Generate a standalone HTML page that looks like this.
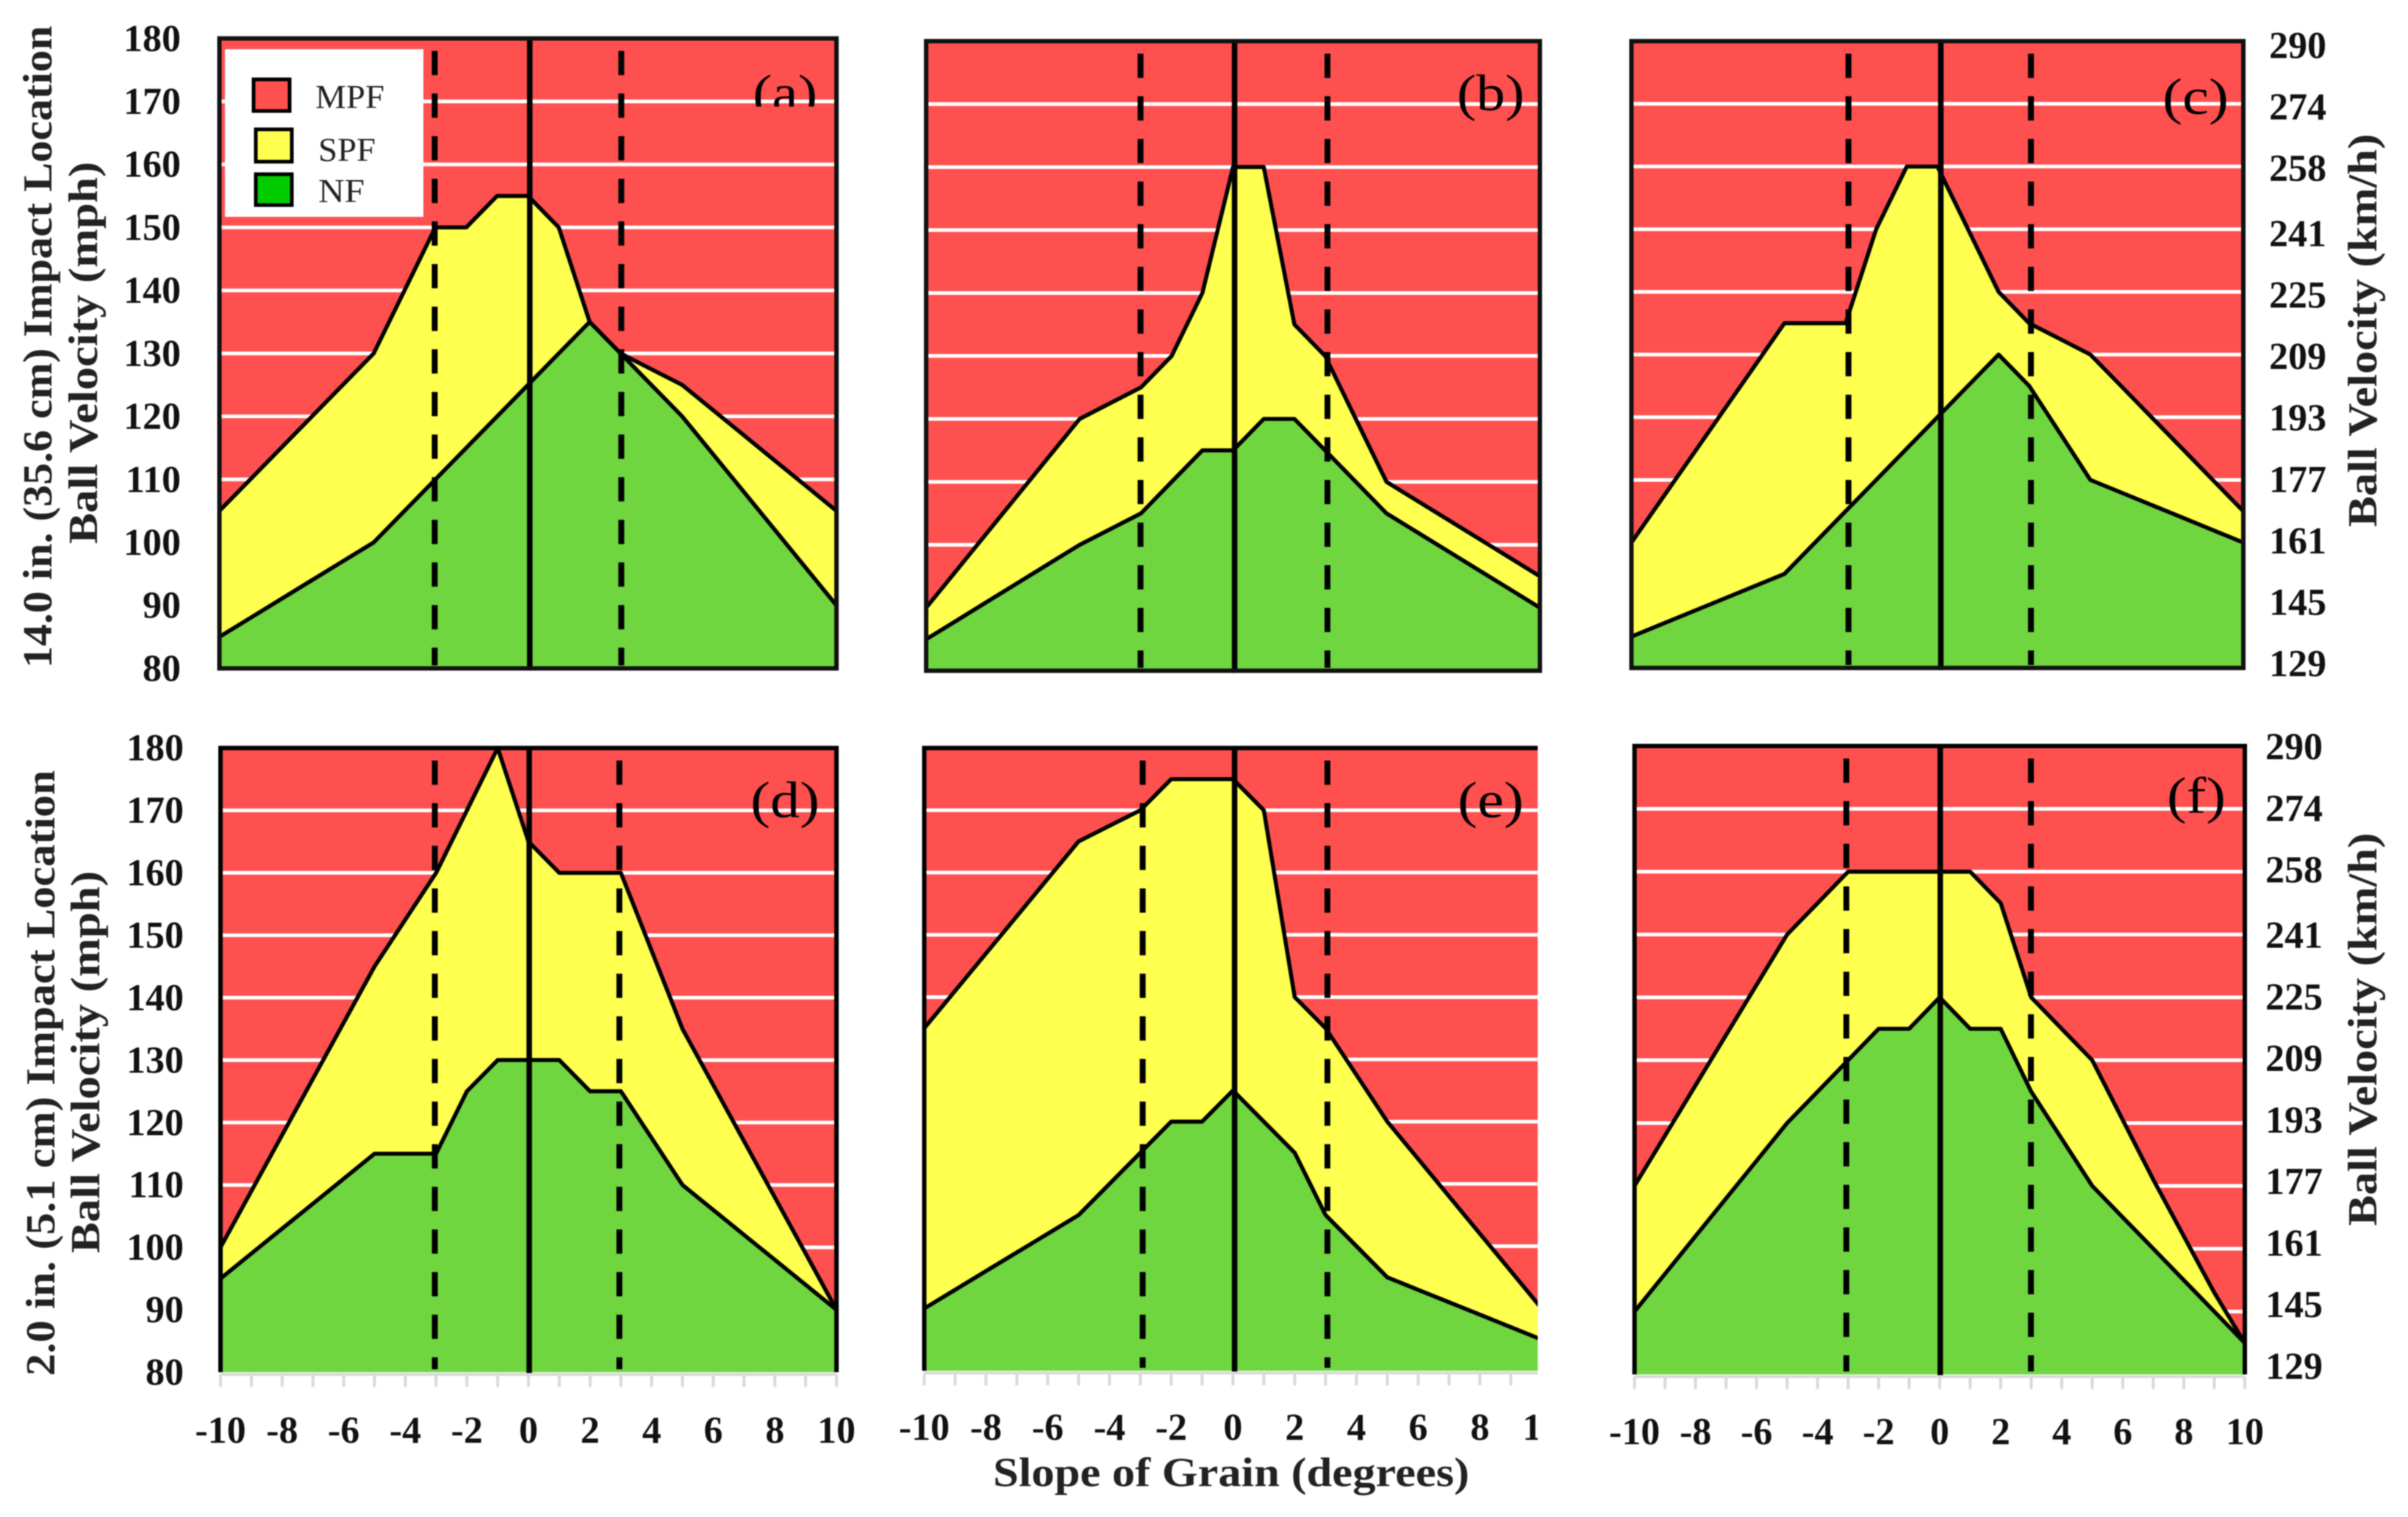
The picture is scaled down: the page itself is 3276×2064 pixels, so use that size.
<!DOCTYPE html>
<html lang="en">
<head>
<meta charset="utf-8">
<title>Failure regions by slope of grain and ball velocity</title>
<style>
  html, body { margin: 0; padding: 0; background: #fff; }
  #figure { display: block; width: 3276px; height: 2064px; font-family: "Liberation Serif", serif; filter: blur(0.7px); }
  .tick { font-size: 52px; font-weight: bold; fill: #111; }
  .axis-title { font-size: 56px; font-weight: bold; fill: #222; }
  .panel-letter { font-size: 70px; fill: #000; }
  .legend-text { font-size: 46px; fill: #222; }
</style>
</head>
<body>
<svg id="figure" xmlns="http://www.w3.org/2000/svg" width="3276" height="2064" viewBox="0 0 3276 2064">
  <defs>
    <clipPath id="clip-letter-a"><rect x="1000" y="80" width="140" height="65"/></clipPath>
  </defs>
  <rect width="3276" height="2064" fill="#fff"/>
  <g id="charts"></g>

  <g>
    <rect x="306" y="67" width="270" height="228" fill="#fff"/>
    <rect x="345" y="108" width="49" height="43" fill="#ff5050" stroke="#000" stroke-width="5"/>
    <text class="legend-text" x="429" y="147" textLength="94" lengthAdjust="spacingAndGlyphs">MPF</text>
    <rect x="348" y="176" width="49" height="44" fill="#ffff50" stroke="#000" stroke-width="5"/>
    <text class="legend-text" x="433" y="219" textLength="78" lengthAdjust="spacingAndGlyphs">SPF</text>
    <rect x="348" y="237" width="49" height="42" fill="#00cc00" stroke="#000" stroke-width="5"/>
    <text class="legend-text" x="433" y="275" textLength="63" lengthAdjust="spacingAndGlyphs">NF</text>
  </g>

  <g>
    <text class="panel-letter" x="1024" y="150" textLength="88" lengthAdjust="spacingAndGlyphs" clip-path="url(#clip-letter-a)">(a)</text>
    <text class="panel-letter" x="1982" y="150" textLength="92" lengthAdjust="spacingAndGlyphs">(b)</text>
    <text class="panel-letter" x="2942" y="155" textLength="90" lengthAdjust="spacingAndGlyphs">(c)</text>
    <text class="panel-letter" x="1021" y="1112" textLength="94" lengthAdjust="spacingAndGlyphs">(d)</text>
    <text class="panel-letter" x="1983" y="1112" textLength="90" lengthAdjust="spacingAndGlyphs">(e)</text>
    <text class="panel-letter" x="2948" y="1106" textLength="80" lengthAdjust="spacingAndGlyphs">(f)</text>
  </g>

  <g>
    <text class="axis-title" transform="translate(70 909) rotate(-90)" textLength="874" lengthAdjust="spacingAndGlyphs">14.0 in. (35.6 cm) Impact Location</text>
    <text class="axis-title" transform="translate(132 740) rotate(-90)" textLength="520" lengthAdjust="spacingAndGlyphs">Ball Velocity (mph)</text>
    <text class="axis-title" transform="translate(74 1872) rotate(-90)" textLength="824" lengthAdjust="spacingAndGlyphs">2.0 in. (5.1 cm) Impact Location</text>
    <text class="axis-title" transform="translate(135 1705) rotate(-90)" textLength="520" lengthAdjust="spacingAndGlyphs">Ball Velocity (mph)</text>
    <text class="axis-title" transform="translate(3233 717) rotate(-90)" textLength="535" lengthAdjust="spacingAndGlyphs">Ball Velocity (km/h)</text>
    <text class="axis-title" transform="translate(3233 1668) rotate(-90)" textLength="535" lengthAdjust="spacingAndGlyphs">Ball Velocity (km/h)</text>
    <text class="axis-title" x="1351" y="2022" textLength="648" lengthAdjust="spacingAndGlyphs">Slope of Grain (degrees)</text>
  </g>
</svg>

<script>
// ---- data ----
const slopeValues = [-10,-9,-8,-7,-6,-5,-4,-3,-2,-1,0,1,2,3,4,5,6,7,8,9,10];
const mphTicks = [180,170,160,150,140,130,120,110,100,90,80];
const kmhTicks = [290,274,258,241,225,209,193,177,161,145,129];
const slopeTicks = [-10,-8,-6,-4,-2,0,2,4,6,8,10];
const referenceSlopes = [-3,0,3];

const spfLimitA = [105,110,115,120,125,130,140,150,150,155,155,150,135,130,127.5,125,121,117,113,109,105];
const nfLimitA  = [85,88,91,94,97,100,105,110,115,120,125,130,135,130,125,120,114,108,102,96,90];

const spfLimitB = [90,96,102,108,114,120,122.5,125,130,140,160,160,135,130,120,110,107,104,101,98,95];
const nfLimitB  = [85,88,91,94,97,100,102.5,105,110,115,115,120,120,115,110,105,102,99,96,93,90];

const spfLimitC = [100,107,114,121,128,135,135,135,150,160,160,150,140,135,132.5,130,125,120,115,110,105];
const nfLimitC  = [85,87,89,91,93,95,100,105,110,115,120,125,130,125,117.5,110,108,106,104,102,100];

const spfLimitD = [100,109,118,127,136,145,152.5,160,170,180,165,160,160,160,147.5,135,126,117,108,99,90];
const nfLimitD  = [95,99,103,107,111,115,115,115,125,130,130,130,125,125,117.5,110,106,102,98,94,90];

const spfLimitE = [135,141,147,153,159,165,167.5,170,175,175,175,170,140,135,127.5,120,114,108,102,96,90];
const nfLimitE  = [90,93,96,99,102,105,110,115,120,120,125,120,115,105,100,95,93,91,89,87,85];

const spfLimitF = [110,118,126,134,142,150,155,160,160,160,160,160,155,140,135,130,120.5,111,102,93,85];
const nfLimitF  = [90,96,102,108,114,120,125,130,135,135,140,135,135,125,117.5,110,105,100,95,90,85];

// ---- layout (not data) ----
const panels = [
  { key:'a', spf:spfLimitA, nf:nfLimitA, left:298.5,  right:1138,   top:52.3,   bottom:909.4,  framed:true,  refShift:[-0.9,2.5,1.1] },
  { key:'b', spf:spfLimitB, nf:nfLimitB, left:1260,   right:2095,   top:56,     bottom:912.6,  framed:true,  refShift:[-0.6,2.1,3.2] },
  { key:'c', spf:spfLimitC, nf:nfLimitC, left:2219.5, right:3052,   top:56,     bottom:908.8,  framed:true,  refShift:[3.9,4.7,2.4] },
  { key:'d', spf:spfLimitD, nf:nfLimitD, left:300,    right:1138,   top:1017.7, bottom:1867,   framed:false, refShift:[-1.7,1,-2.1], labelY:1946 },
  { key:'e', spf:spfLimitE, nf:nfLimitE, left:1257.4, right:2097.4, top:1017.7, bottom:1865,   framed:false, refShift:[3.2,2.2,2.5], labelY:1942, clipRight:2092 },
  { key:'f', spf:spfLimitF, nf:nfLimitF, left:2223.7, right:3054,   top:1015,   bottom:1870,   framed:false, refShift:[-2.4,0.8,-0.4], labelY:1948 }
];
const leftAxes = [
  { name:'top', endX:246, top:52.3, bottom:909.4 },
  { name:'bottom', endX:250, top:1017.7, bottom:1867 }
];
const rightAxes = [
  { name:'top', startX:3087, y290:62, y129:903 },
  { name:'bottom', startX:3082, y290:1016, y129:1859 }
];

const NS = 'http://www.w3.org/2000/svg';
const chartsRoot = document.getElementById('charts');
const defsRoot = document.querySelector('#figure defs');

function svgEl(tag, attrs, parent) {
  const el = document.createElementNS(NS, tag);
  for (const k in attrs) el.setAttribute(k, attrs[k]);
  parent.appendChild(el);
  return el;
}

function drawPanel(p) {
  const xScale = s => p.left + (s + 10) * (p.right - p.left) / 20;
  const yScale = v => p.bottom - (v - 80) * (p.bottom - p.top) / 100;
  const clipRight = p.clipRight || p.right;
  const clipOuter = p.clipRight || (p.right + 60);

  const g = svgEl('g', {}, chartsRoot);
  
  

  const clip = svgEl('clipPath', { id: 'clip-' + p.key }, defsRoot);
  svgEl('rect', { x: p.left - 60, y: p.top - 10, width: clipOuter - p.left + 60, height: 1000 }, clip);
  g.setAttribute('clip-path', 'url(#clip-' + p.key + ')');

  const bg = svgEl('rect', { x: p.left, y: p.top, width: clipRight - p.left, height: p.bottom - p.top, fill: '#ff5050' }, g);
  
  

  mphTicks.forEach(function (t) {
    if (t === 180 || t === 80) return;
    const line = svgEl('line', { x1: p.left, x2: clipRight, y1: yScale(t), y2: yScale(t), stroke: '#fff', 'stroke-width': 5 }, g);
    
    
  });

  function curve(values) {
    return values.map((v, i) => xScale(slopeValues[i]).toFixed(1) + ',' + yScale(v).toFixed(1)).join(' ');
  }
  function area(values) {
    return xScale(slopeValues[0]).toFixed(1) + ',' + p.bottom + ' ' + curve(values) + ' ' +
           xScale(slopeValues[slopeValues.length - 1]).toFixed(1) + ',' + p.bottom;
  }

  const spfArea = svgEl('polygon', { points: area(p.spf), fill: '#ffff50' }, g);
  
  

  const spfLine = svgEl('polyline', { points: curve(p.spf), fill: 'none', stroke: '#000', 'stroke-width': 5.5, 'stroke-linejoin': 'round' }, g);
  
  

  const nfArea = svgEl('polygon', { points: area(p.nf), fill: '#70d640' }, g);
  
  

  const nfLine = svgEl('polyline', { points: curve(p.nf), fill: 'none', stroke: '#000', 'stroke-width': 5.5, 'stroke-linejoin': 'round' }, g);
  
  

  referenceSlopes.forEach(function (s, i) {
    const x = xScale(s) + p.refShift[i];
    const isZero = s === 0;
    const ref = svgEl('line', {
      x1: x, x2: x,
      y1: isZero ? p.top : p.top + 17,
      y2: isZero ? p.bottom + 3 : p.bottom - 4,
      stroke: '#000',
      'stroke-width': isZero ? 7.5 : 8,
      'stroke-dasharray': isZero ? 'none' : '33 25'
    }, g);
    
    
  });

  // frame
  if (p.framed) {
    const frame = svgEl('rect', { x: p.left, y: p.top, width: p.right - p.left, height: p.bottom - p.top, fill: 'none', stroke: '#111', 'stroke-width': 6 }, g);
    
    
  } else {
    const pts = p.clipRight
      ? [[p.left, p.bottom], [p.left, p.top], [clipRight, p.top]]
      : [[p.left, p.bottom], [p.left, p.top], [p.right, p.top], [p.right, p.bottom]];
    const frame = svgEl('polyline', { points: pts.map(q => q.join(',')).join(' '), fill: 'none', stroke: '#000', 'stroke-width': 6 }, g);
    
    

    const axis = svgEl('line', { x1: p.left, x2: clipRight, y1: p.bottom + 3, y2: p.bottom + 3, stroke: '#d9d9d9', 'stroke-width': 4 }, g);
    
    

    slopeValues.forEach(function (s) {
      const tick = svgEl('line', { x1: xScale(s), x2: xScale(s), y1: p.bottom + 3, y2: p.bottom + 20, stroke: '#d9d9d9', 'stroke-width': 4 }, g);
      
      
    });

    slopeTicks.forEach(function (s) {
      const label = svgEl('text', { x: xScale(s), y: p.labelY + 17, 'text-anchor': 'middle', class: 'tick' }, g);
      label.textContent = String(s);
      
      
    });
  }
}

panels.forEach(drawPanel);

leftAxes.forEach(function (ax) {
  const yScale = v => ax.bottom - (v - 80) * (ax.bottom - ax.top) / 100;
  mphTicks.forEach(function (t) {
    const label = svgEl('text', { x: ax.endX, y: yScale(t) + 17, 'text-anchor': 'end', class: 'tick' }, chartsRoot);
    label.textContent = String(t);
    
    
  });
});

rightAxes.forEach(function (ax) {
  const yScale = k => ax.y129 - (k - 129) * (ax.y129 - ax.y290) / (290 - 129);
  kmhTicks.forEach(function (t) {
    const label = svgEl('text', { x: ax.startX, y: yScale(t) + 17, 'text-anchor': 'start', class: 'tick' }, chartsRoot);
    label.textContent = String(t);
    
    
  });
});
</script>
</body>
</html>
